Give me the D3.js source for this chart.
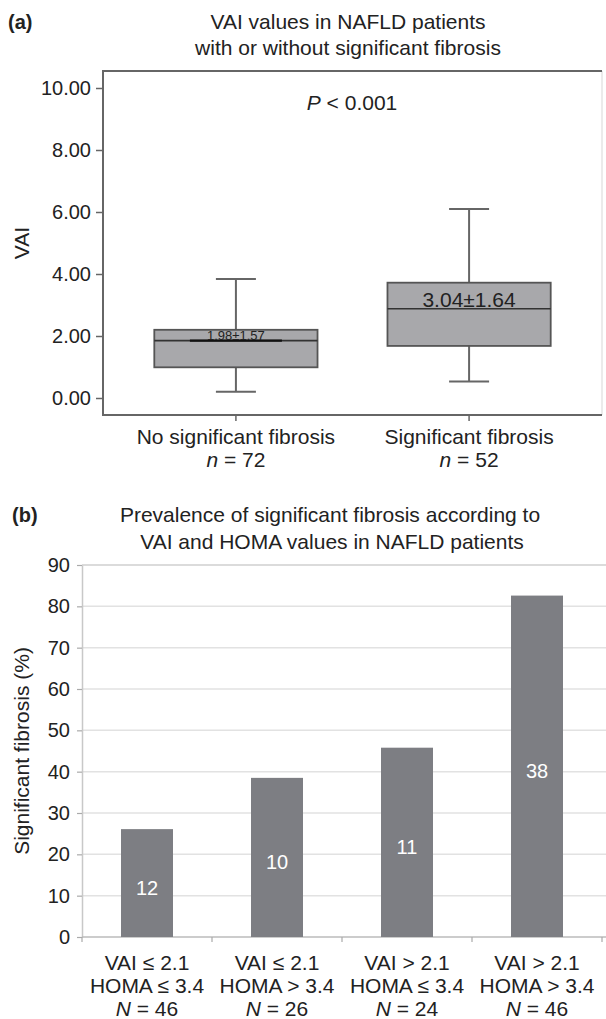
<!DOCTYPE html>
<html>
<head>
<meta charset="utf-8">
<script src="https://cdn.jsdelivr.net/npm/d3@7"></script>
<style>
  body { margin: 0; background: white; }
  svg text { font-family: "Liberation Sans", Arial, sans-serif; fill: #222; }
</style>
</head>
<body>
<svg id="chart"></svg>
<script>
// panel (a): VAI box plots
var groupNames = ["No significant fibrosis", "Significant fibrosis"];
var groupN = [72, 52];
var whiskerLow = [0.20, 0.53];
var quart1 = [0.99, 1.68];
var medians = [1.85, 2.88];
var quart3 = [2.20, 3.72];
var whiskerHigh = [3.84, 6.10];
var meanSd = ["1.98±1.57", "3.04±1.64"];
var vaiTicks = [0, 2, 4, 6, 8, 10];

// panel (b): prevalence bars
var vaiCond = ["VAI ≤ 2.1", "VAI ≤ 2.1", "VAI > 2.1", "VAI > 2.1"];
var homaCond = ["HOMA ≤ 3.4", "HOMA > 3.4", "HOMA ≤ 3.4", "HOMA > 3.4"];
var groupTotal = [46, 26, 24, 46];
var fibrosisCount = [12, 10, 11, 38];
var fibrosisPct = [26.1, 38.5, 45.8, 82.6];
var pctTicks = [0, 10, 20, 30, 40, 50, 60, 70, 80, 90];

var dimensions = { width: 606, height: 1019 };

var svg = d3.select("#chart")
    .attr("width", dimensions.width)
    .attr("height", dimensions.height);

svg.append("rect").attr("width", dimensions.width).attr("height", dimensions.height).attr("fill", "white");

// ---------- panel (a) ----------
var boxA = { left: 103, right: 602, top: 71, bottom: 415 };

var yA = d3.scaleLinear().domain([0, 10]).range([398, 88]);
var xA = d3.scaleBand().domain(d3.range(groupNames.length))
    .range([boxA.left, boxA.right])
    .paddingInner(0.3).paddingOuter(0.22);

svg.append("text").attr("x", 8).attr("y", 29)
    .style("font-weight", "bold").style("font-size", "20px").text("(a)");

var titleA = svg.append("text").attr("text-anchor", "middle").style("font-size", "21px");
titleA.append("tspan").attr("x", 348).attr("y", 29).text("VAI values in NAFLD patients");
titleA.append("tspan").attr("x", 348).attr("y", 55).text("with or without significant fibrosis");

// frame
svg.append("line").attr("x1", boxA.right).attr("x2", boxA.right)
    .attr("y1", boxA.top).attr("y2", boxA.bottom)
    .attr("stroke", "#e4e4e4").attr("stroke-width", 1.5);
svg.append("path")
    .attr("d", `M${boxA.right},${boxA.top}H${boxA.left}V${boxA.bottom}H${boxA.right}`)
    .attr("fill", "none").attr("stroke", "#666").attr("stroke-width", 2);

var yAxisA = svg.append("g")
    .attr("transform", `translate(${boxA.left},0)`)
    .call(d3.axisLeft(yA).tickValues(vaiTicks).tickFormat(d3.format(".2f")).tickSize(7).tickPadding(5));
yAxisA.select(".domain").remove();
yAxisA.selectAll(".tick line").attr("stroke", "#666").attr("stroke-width", 1.5);
yAxisA.selectAll(".tick text").style("font-size", "20px").attr("fill", "#222")
    .style("font-family", "Liberation Sans, Arial, sans-serif");

svg.append("text")
    .attr("transform", "translate(29,243) rotate(-90)")
    .attr("text-anchor", "middle").style("font-size", "21px").text("VAI");

var pText = svg.append("text").attr("x", 352).attr("y", 110)
    .attr("text-anchor", "middle").style("font-size", "21px");
pText.append("tspan").style("font-style", "italic").text("P");
pText.append("tspan").text(" < 0.001");

var boxes = svg.selectAll(".box")
    .data(groupNames)
    .enter()
    .append("g")
    .attr("class", "box");

var cx = i => xA(i) + xA.bandwidth() / 2;

// whiskers
boxes.append("line")
    .attr("x1", (d, i) => cx(i)).attr("x2", (d, i) => cx(i))
    .attr("y1", (d, i) => yA(whiskerLow[i])).attr("y2", (d, i) => yA(whiskerHigh[i]))
    .attr("stroke", "#666").attr("stroke-width", 2);
[whiskerLow, whiskerHigh].forEach(arr => {
    boxes.append("line")
        .attr("x1", (d, i) => cx(i) - 20).attr("x2", (d, i) => cx(i) + 20)
        .attr("y1", (d, i) => yA(arr[i])).attr("y2", (d, i) => yA(arr[i]))
        .attr("stroke", "#666").attr("stroke-width", 2);
});

boxes.append("rect")
    .attr("x", (d, i) => xA(i))
    .attr("width", xA.bandwidth())
    .attr("y", (d, i) => yA(quart3[i]))
    .attr("height", (d, i) => yA(quart1[i]) - yA(quart3[i]))
    .attr("fill", "#a8a8ab").attr("stroke", "#555").attr("stroke-width", 1.8);

boxes.append("line")
    .attr("x1", (d, i) => xA(i)).attr("x2", (d, i) => xA(i) + xA.bandwidth())
    .attr("y1", (d, i) => yA(medians[i])).attr("y2", (d, i) => yA(medians[i]))
    .attr("stroke", "#333").attr("stroke-width", 1.6);

// darker underline below the small mean label
boxes.filter((d, i) => i === 0).append("line")
    .attr("x1", (d, i) => cx(i) - 46).attr("x2", (d, i) => cx(i) + 46)
    .attr("y1", (d, i) => yA(medians[i])).attr("y2", (d, i) => yA(medians[i]))
    .attr("stroke", "#111").attr("stroke-width", 2.4);

boxes.append("text")
    .attr("x", (d, i) => cx(i))
    .attr("y", (d, i) => yA(medians[i]) - (i === 0 ? 1 : 2))
    .attr("text-anchor", "middle")
    .style("font-size", (d, i) => i === 0 ? "13px" : "21px")
    .text((d, i) => meanSd[i]);

// bottom ticks and labels
boxes.append("line")
    .attr("x1", (d, i) => cx(i)).attr("x2", (d, i) => cx(i))
    .attr("y1", boxA.bottom).attr("y2", boxA.bottom + 6)
    .attr("stroke", "#666").attr("stroke-width", 1.5);
boxes.append("text")
    .attr("x", (d, i) => cx(i)).attr("y", 444)
    .attr("text-anchor", "middle").style("font-size", "21px")
    .text(d => d);
var nA = boxes.append("text")
    .attr("x", (d, i) => cx(i)).attr("y", 467)
    .attr("text-anchor", "middle").style("font-size", "21px");
nA.append("tspan").style("font-style", "italic").text("n");
nA.append("tspan").text((d, i) => " = " + groupN[i]);

// ---------- panel (b) ----------
var boxB = { left: 82, right: 602, top: 565, bottom: 937 };

var yB = d3.scaleLinear().domain([0, 90]).range([boxB.bottom, boxB.top]);
var xB = d3.scaleBand().domain(d3.range(fibrosisPct.length))
    .range([boxB.left, boxB.right])
    .paddingInner(0.6).paddingOuter(0.3);

svg.append("text").attr("x", 12).attr("y", 522)
    .style("font-weight", "bold").style("font-size", "20px").text("(b)");

var titleB = svg.append("text").attr("text-anchor", "middle").style("font-size", "21px");
titleB.append("tspan").attr("x", 330).attr("y", 522).text("Prevalence of significant fibrosis according to");
titleB.append("tspan").attr("x", 332).attr("y", 549).text("VAI and HOMA values in NAFLD patients");

// gridlines
svg.append("g").selectAll("line")
    .data(pctTicks.filter(d => d > 0))
    .enter()
    .append("line")
    .attr("x1", boxB.left).attr("x2", 606)
    .attr("y1", d => yB(d)).attr("y2", d => yB(d))
    .attr("stroke", d => d === 90 ? "#cfcfcf" : "#e2e2e2").attr("stroke-width", 1.5);

var yAxisB = svg.append("g")
    .attr("transform", `translate(${boxB.left},0)`)
    .call(d3.axisLeft(yB).tickValues(pctTicks).tickSize(5).tickPadding(7).tickSizeOuter(0));
yAxisB.select(".domain").attr("stroke", "#c8c8c8").attr("stroke-width", 1.5);
yAxisB.selectAll(".tick line").attr("stroke", "#aaa").attr("stroke-width", 1.2);
yAxisB.selectAll(".tick text").style("font-size", "20px").attr("fill", "#222")
    .style("font-family", "Liberation Sans, Arial, sans-serif");

svg.append("text")
    .attr("transform", `translate(29,${(boxB.top + boxB.bottom) / 2}) rotate(-90)`)
    .attr("text-anchor", "middle").style("font-size", "21px").text("Significant fibrosis (%)");

// x axis line and category separators
svg.append("line").attr("x1", boxB.left).attr("x2", 606)
    .attr("y1", boxB.bottom).attr("y2", boxB.bottom)
    .attr("stroke", "#bbb").attr("stroke-width", 1.5);
var step = xB.step();
svg.append("g").selectAll("line")
    .data(d3.range(fibrosisPct.length + 1))
    .enter()
    .append("line")
    .attr("x1", i => xB(0) - step * 0.3 + i * step)
    .attr("x2", i => xB(0) - step * 0.3 + i * step)
    .attr("y1", boxB.bottom).attr("y2", boxB.bottom + 5)
    .attr("stroke", "#aaa").attr("stroke-width", 1.2);

var bars = svg.selectAll(".bar")
    .data(fibrosisPct)
    .enter()
    .append("g")
    .attr("class", "bar");

bars.append("rect")
    .attr("x", (d, i) => xB(i))
    .attr("width", xB.bandwidth())
    .attr("y", d => yB(d))
    .attr("height", d => yB(0) - yB(d))
    .attr("fill", "#7d7e83");

bars.append("text")
    .attr("x", (d, i) => xB(i) + xB.bandwidth() / 2)
    .attr("y", d => yB(d / 2))
    .attr("dy", "0.6em")
    .attr("text-anchor", "middle")
    .style("font-size", "20px")
    .style("fill", "white")
    .text((d, i) => fibrosisCount[i]);

var bx = i => xB(i) + xB.bandwidth() / 2;
bars.append("text")
    .attr("x", (d, i) => bx(i)).attr("y", 970)
    .attr("text-anchor", "middle").style("font-size", "21px")
    .text((d, i) => vaiCond[i]);
bars.append("text")
    .attr("x", (d, i) => bx(i)).attr("y", 993)
    .attr("text-anchor", "middle").style("font-size", "21px")
    .text((d, i) => homaCond[i]);
var nB = bars.append("text")
    .attr("x", (d, i) => bx(i)).attr("y", 1016)
    .attr("text-anchor", "middle").style("font-size", "21px");
nB.append("tspan").style("font-style", "italic").text("N");
nB.append("tspan").text((d, i) => " = " + groupTotal[i]);
</script>
</body>
</html>
